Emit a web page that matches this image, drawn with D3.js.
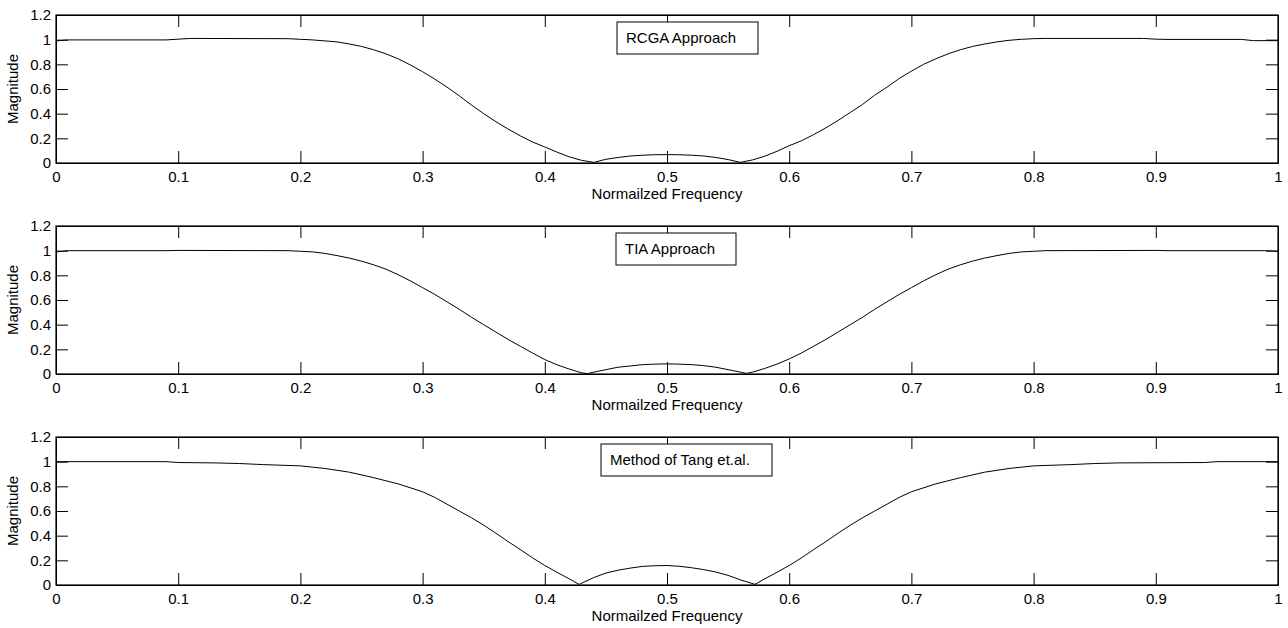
<!DOCTYPE html>
<html>
<head>
<meta charset="utf-8">
<script src="https://cdn.jsdelivr.net/npm/d3@7"></script>
<style>
  body { margin: 0; background: #fff; }
  svg { display: block; font-family: "Liberation Sans", Arial, sans-serif; }
</style>
</head>
<body>
<svg id="chart" width="1288" height="628"></svg>
<script>
// frequency / magnitude
const rcgaFreq = [0, 0.01, 0.09, 0.1, 0.11, 0.19, 0.2, 0.21, 0.22, 0.23, 0.24, 0.25, 0.26, 0.27, 0.28, 0.29,
  0.30, 0.31, 0.32, 0.33, 0.34, 0.35, 0.36, 0.37, 0.38, 0.39, 0.40, 0.41, 0.42, 0.43, 0.44, 0.45, 0.46, 0.47,
  0.48, 0.49, 0.50, 0.51, 0.52, 0.53, 0.54, 0.55, 0.56, 0.57, 0.58, 0.59, 0.60, 0.61, 0.62, 0.63, 0.64, 0.65,
  0.66, 0.67, 0.68, 0.69, 0.70, 0.71, 0.72, 0.73, 0.74, 0.75, 0.76, 0.77, 0.78, 0.79, 0.80, 0.81, 0.89, 0.90,
  0.91, 0.97, 0.98, 1.0];
const rcgaMag = [0.99, 0.998, 0.998, 1.004, 1.01, 1.008, 1.003, 0.998, 0.99, 0.982, 0.965, 0.945, 0.918, 0.885, 0.845, 0.795,
  0.74, 0.68, 0.615, 0.545, 0.47, 0.40, 0.335, 0.275, 0.22, 0.17, 0.13, 0.088, 0.05, 0.022, 0.005, 0.03, 0.045, 0.057,
  0.063, 0.067, 0.068, 0.067, 0.063, 0.057, 0.045, 0.028, 0.005, 0.025, 0.055, 0.095, 0.14, 0.18, 0.23, 0.285, 0.345, 0.41,
  0.475, 0.55, 0.615, 0.685, 0.745, 0.80, 0.845, 0.885, 0.918, 0.945, 0.965, 0.982, 0.995, 1.003, 1.008, 1.01, 1.01, 1.004,
  1.002, 1.002, 0.992, 0.992];

const tiaFreq = [0, 0.01, 0.09, 0.1, 0.19, 0.2, 0.21, 0.22, 0.23, 0.24, 0.25, 0.26, 0.27, 0.28, 0.29, 0.30,
  0.31, 0.32, 0.33, 0.34, 0.35, 0.36, 0.37, 0.38, 0.39, 0.40, 0.41, 0.42, 0.43, 0.435, 0.44, 0.45, 0.46, 0.47,
  0.48, 0.49, 0.50, 0.51, 0.52, 0.53, 0.54, 0.55, 0.56, 0.565, 0.57, 0.58, 0.59, 0.60, 0.61, 0.62, 0.63, 0.64,
  0.65, 0.66, 0.67, 0.68, 0.69, 0.70, 0.71, 0.72, 0.73, 0.74, 0.75, 0.76, 0.77, 0.78, 0.79, 0.80, 0.81, 0.90,
  0.91, 0.99, 1.0];
const tiaMag = [0.99, 1.0, 1.0, 1.002, 1.0, 0.995, 0.99, 0.978, 0.96, 0.94, 0.915, 0.885, 0.85, 0.805, 0.755, 0.70,
  0.645, 0.585, 0.525, 0.46, 0.40, 0.34, 0.28, 0.225, 0.17, 0.117, 0.075, 0.04, 0.01, 0.003, 0.015, 0.035, 0.055, 0.065,
  0.076, 0.08, 0.082, 0.08, 0.076, 0.068, 0.055, 0.035, 0.015, 0.005, 0.015, 0.045, 0.08, 0.122, 0.17, 0.225, 0.28, 0.34,
  0.40, 0.46, 0.525, 0.585, 0.645, 0.70, 0.755, 0.805, 0.85, 0.885, 0.915, 0.94, 0.96, 0.978, 0.99, 0.995, 1.0, 1.002,
  1.0, 1.0, 0.995];

const tangFreq = [0, 0.09, 0.1, 0.13, 0.15, 0.17, 0.2, 0.22, 0.24, 0.26, 0.28, 0.30, 0.31, 0.32, 0.33, 0.34,
  0.35, 0.36, 0.37, 0.38, 0.39, 0.40, 0.41, 0.42, 0.428, 0.44, 0.45, 0.46, 0.47, 0.48, 0.49, 0.50, 0.51, 0.52,
  0.53, 0.54, 0.55, 0.56, 0.572, 0.58, 0.59, 0.60, 0.61, 0.62, 0.63, 0.64, 0.65, 0.66, 0.67, 0.68, 0.69, 0.70,
  0.72, 0.74, 0.76, 0.78, 0.80, 0.83, 0.85, 0.87, 0.94, 0.95, 1.0];
const tangMag = [1.0, 1.0, 0.993, 0.99, 0.985, 0.976, 0.966, 0.945, 0.915, 0.87, 0.82, 0.756, 0.71, 0.655, 0.6, 0.545,
  0.485, 0.42, 0.352, 0.287, 0.22, 0.158, 0.103, 0.05, 0.005, 0.06, 0.097, 0.12, 0.137, 0.151, 0.156, 0.158, 0.152, 0.14,
  0.125, 0.105, 0.078, 0.042, 0.005, 0.05, 0.103, 0.158, 0.22, 0.287, 0.352, 0.42, 0.485, 0.545, 0.6, 0.655, 0.71, 0.756,
  0.82, 0.87, 0.915, 0.945, 0.966, 0.976, 0.985, 0.99, 0.993, 1.0, 1.0];

const panelTitles = ["RCGA Approach", "TIA Approach", "Method of Tang et.al."];
const xTicks = [0, 0.1, 0.2, 0.3, 0.4, 0.5, 0.6, 0.7, 0.8, 0.9, 1];
const yTicks = [0, 0.2, 0.4, 0.6, 0.8, 1, 1.2];

const panels = [
  { freq: rcgaFreq, mag: rcgaMag, title: panelTitles[0], top: 15, box: [617, 22, 141, 32] },
  { freq: tiaFreq, mag: tiaMag, title: panelTitles[1], top: 226, box: [616, 233, 120, 32] },
  { freq: tangFreq, mag: tangMag, title: panelTitles[2], top: 437, box: [601, 444, 171, 32] }
];

const svg = d3.select("#chart");
svg.append("rect").attr("width", 1288).attr("height", 628).attr("fill", "#fff");

const left = 56, right = 1278, plotH = 148;
const fontSize = 15;

function drawPanel(p) {
    const g = svg.append("g").attr("transform", `translate(0, ${p.top})`);

    const x = d3.scaleLinear().domain([0, 1]).range([left, right]);
    const y = d3.scaleLinear().domain([0, 1.2]).range([plotH, 0]);

    const fmt = d => String(d);

    g.append("g")
        .attr("transform", `translate(0, ${plotH})`)
        .call(d3.axisBottom(x).tickValues(xTicks).tickFormat(fmt).tickSizeInner(-12).tickSizeOuter(0).tickPadding(8));
    g.append("g")
        .call(d3.axisTop(x).tickValues(xTicks).tickFormat("").tickSizeInner(-12).tickSizeOuter(0));
    g.append("g")
        .attr("transform", `translate(${left}, 0)`)
        .call(d3.axisLeft(y).tickValues(yTicks).tickFormat(fmt).tickSizeInner(-12).tickSizeOuter(0).tickPadding(5));
    g.append("g")
        .attr("transform", `translate(${right}, 0)`)
        .call(d3.axisRight(y).tickValues(yTicks).tickFormat("").tickSizeInner(-12).tickSizeOuter(0));

    g.selectAll(".tick text")
        .attr("font-size", fontSize)
        .attr("font-family", "Liberation Sans, Arial, sans-serif")
        .attr("fill", "#000");
    g.selectAll(".domain, .tick line").attr("stroke", "#000");

    const pts = p.freq.map((f, i) => [f, p.mag[i]]);
    const line = d3.line().x(d => x(d[0])).y(d => y(d[1]));
    g.append("path")
        .datum(pts)
        .attr("d", line)
        .attr("fill", "none")
        .attr("stroke", "#000")
        .attr("stroke-width", 1);

    g.append("rect")
        .attr("x", left)
        .attr("y", 0)
        .attr("width", right - left)
        .attr("height", plotH)
        .attr("fill", "none")
        .attr("stroke", "#000")
        .attr("stroke-width", 1.2);

    // legend box
    const [bx, by, bw, bh] = p.box;
    svg.append("rect")
        .attr("x", bx)
        .attr("y", by)
        .attr("width", bw)
        .attr("height", bh)
        .attr("fill", "#fff")
        .attr("stroke", "#000")
        .attr("stroke-width", 1);
    svg.append("text")
        .attr("x", bx + 9)
        .attr("y", by + bh / 2)
        .attr("dy", "0.35em")
        .attr("font-size", fontSize)
        .text(p.title);

    g.append("text")
        .attr("transform", `translate(13, ${plotH / 2}) rotate(-90)`)
        .attr("text-anchor", "middle")
        .attr("dy", "0.35em")
        .attr("font-size", fontSize)
        .text("Magnitude");

    g.append("text")
        .attr("x", (left + right) / 2)
        .attr("y", plotH + 31)
        .attr("dy", "0.35em")
        .attr("text-anchor", "middle")
        .attr("font-size", fontSize)
        .text("Normailzed Frequency");
}

panels.forEach(drawPanel);
</script>
</body>
</html>
